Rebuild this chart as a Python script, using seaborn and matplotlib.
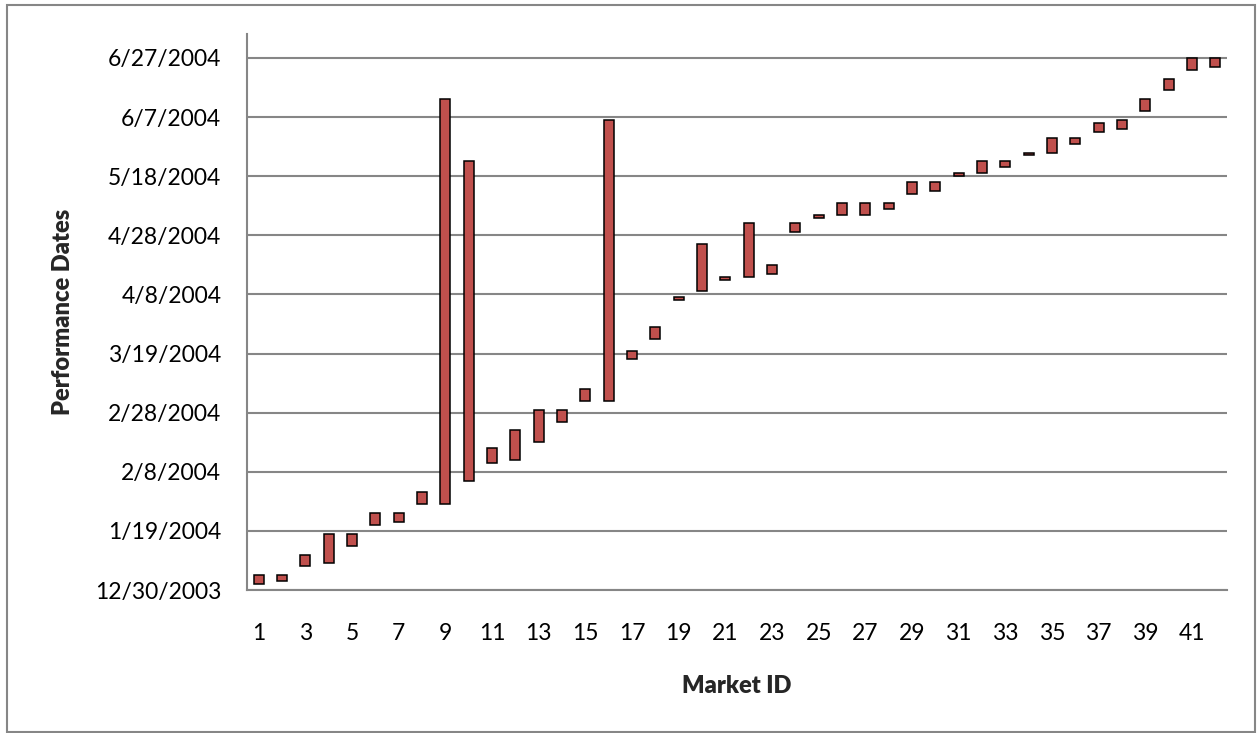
import matplotlib
matplotlib.use("Agg")
import matplotlib.pyplot as plt
import matplotlib.dates as mdates
from matplotlib.patches import Rectangle
from matplotlib.ticker import FixedLocator, NullFormatter
import numpy as np
import pandas as pd
import seaborn as sns

# Market performance windows: first and last performance date per market
market_ids = list(range(1, 43))
start_dates = [
    "2004-01-01", "2004-01-02", "2004-01-07", "2004-01-08", "2004-01-14",
    "2004-01-21", "2004-01-22", "2004-01-28", "2004-01-28", "2004-02-05",
    "2004-02-11", "2004-02-12", "2004-02-18", "2004-02-25", "2004-03-03",
    "2004-03-03", "2004-03-17", "2004-03-24", "2004-04-06", "2004-04-09",
    "2004-04-13", "2004-04-14", "2004-04-15", "2004-04-29", "2004-05-04",
    "2004-05-05", "2004-05-05", "2004-05-07", "2004-05-12", "2004-05-13",
    "2004-05-18", "2004-05-19", "2004-05-21", "2004-05-25", "2004-05-26",
    "2004-05-29", "2004-06-02", "2004-06-03", "2004-06-09", "2004-06-16",
    "2004-06-23", "2004-06-24",
]
end_dates = [
    "2004-01-04", "2004-01-04", "2004-01-11", "2004-01-18", "2004-01-18",
    "2004-01-25", "2004-01-25", "2004-02-01", "2004-06-13", "2004-05-23",
    "2004-02-16", "2004-02-22", "2004-02-29", "2004-02-29", "2004-03-07",
    "2004-06-06", "2004-03-20", "2004-03-28", "2004-04-07", "2004-04-25",
    "2004-04-14", "2004-05-02", "2004-04-18", "2004-05-02", "2004-05-05",
    "2004-05-09", "2004-05-09", "2004-05-09", "2004-05-16", "2004-05-16",
    "2004-05-19", "2004-05-23", "2004-05-23", "2004-05-26", "2004-05-31",
    "2004-05-31", "2004-06-05", "2004-06-06", "2004-06-13", "2004-06-20",
    "2004-06-27", "2004-06-27",
]
y_tick_dates = [
    "2003-12-30", "2004-01-19", "2004-02-08", "2004-02-28", "2004-03-19",
    "2004-04-08", "2004-04-28", "2004-05-18", "2004-06-07", "2004-06-27",
]
y_tick_labels = [
    "12/30/2003", "1/19/2004", "2/8/2004", "2/28/2004", "3/19/2004",
    "4/8/2004", "4/28/2004", "5/18/2004", "6/7/2004", "6/27/2004",
]

GRID = "#868686"
BAR = "#C0504D"

sns.set_style("white")
plt.rcParams["font.family"] = ["Lato", "DejaVu Sans"]

start_num = mdates.date2num(pd.to_datetime(start_dates))
end_num = mdates.date2num(pd.to_datetime(end_dates))
df = pd.DataFrame({
    "market": market_ids,
    "start": start_num,
    "length": end_num - start_num,
})

fig = plt.figure(figsize=(12.57, 7.33), dpi=100)
ax = fig.add_axes([247 / 1257, 1 - 590 / 733, (1227 - 247) / 1257, (590 - 34) / 733])

sns.barplot(
    data=df, x="market", y="length", bottom=df["start"].to_numpy(),
    color=BAR, saturation=1, width=0.42, edgecolor="black", linewidth=1.1,
    errorbar=None, ax=ax, zorder=3,
)

# Y axis: dates every 20 days
y_ticks = mdates.date2num(pd.to_datetime(y_tick_dates))
ax.set_ylim(y_ticks[0], y_ticks[0] + 188.1)
ax.set_yticks(y_ticks)
ax.set_yticklabels(y_tick_labels, fontsize=16.5)
ax.yaxis.grid(True, color=GRID, linewidth=1.5, zorder=0)
ax.set_axisbelow(True)

# X axis: category ticks between markets, every other market labelled
ax.set_xlim(-0.5, len(market_ids) - 0.5)
ax.set_xticks(range(0, len(market_ids), 2))
ax.set_xticklabels([str(m) for m in market_ids[::2]], fontsize=16.5)
ax.xaxis.set_minor_locator(FixedLocator(np.arange(-0.5, len(market_ids), 1)))
ax.xaxis.set_minor_formatter(NullFormatter())
ax.tick_params(axis="x", which="major", length=0, pad=24, colors="black")
ax.tick_params(axis="x", which="minor", length=6, width=1.5, color=GRID, direction="out")
ax.tick_params(axis="y", which="major", length=5.5, width=1.5, color=GRID, direction="out",
               pad=13, labelcolor="black")

for side in ("top", "right"):
    ax.spines[side].set_visible(False)
for side in ("left", "bottom"):
    ax.spines[side].set_color(GRID)
    ax.spines[side].set_linewidth(1.5)

ax.set_xlabel("Market ID", fontsize=17, fontweight="heavy", labelpad=22)
ax.set_ylabel("Performance Dates", fontsize=17, fontweight="heavy", labelpad=15)

# Chart frame
fig.patches.append(Rectangle((7 / 1257, 1 / 733), 1248 / 1257, 727 / 733,
                             transform=fig.transFigure, fill=False,
                             edgecolor=GRID, linewidth=1.5))

fig.savefig("out.png", dpi=100)
